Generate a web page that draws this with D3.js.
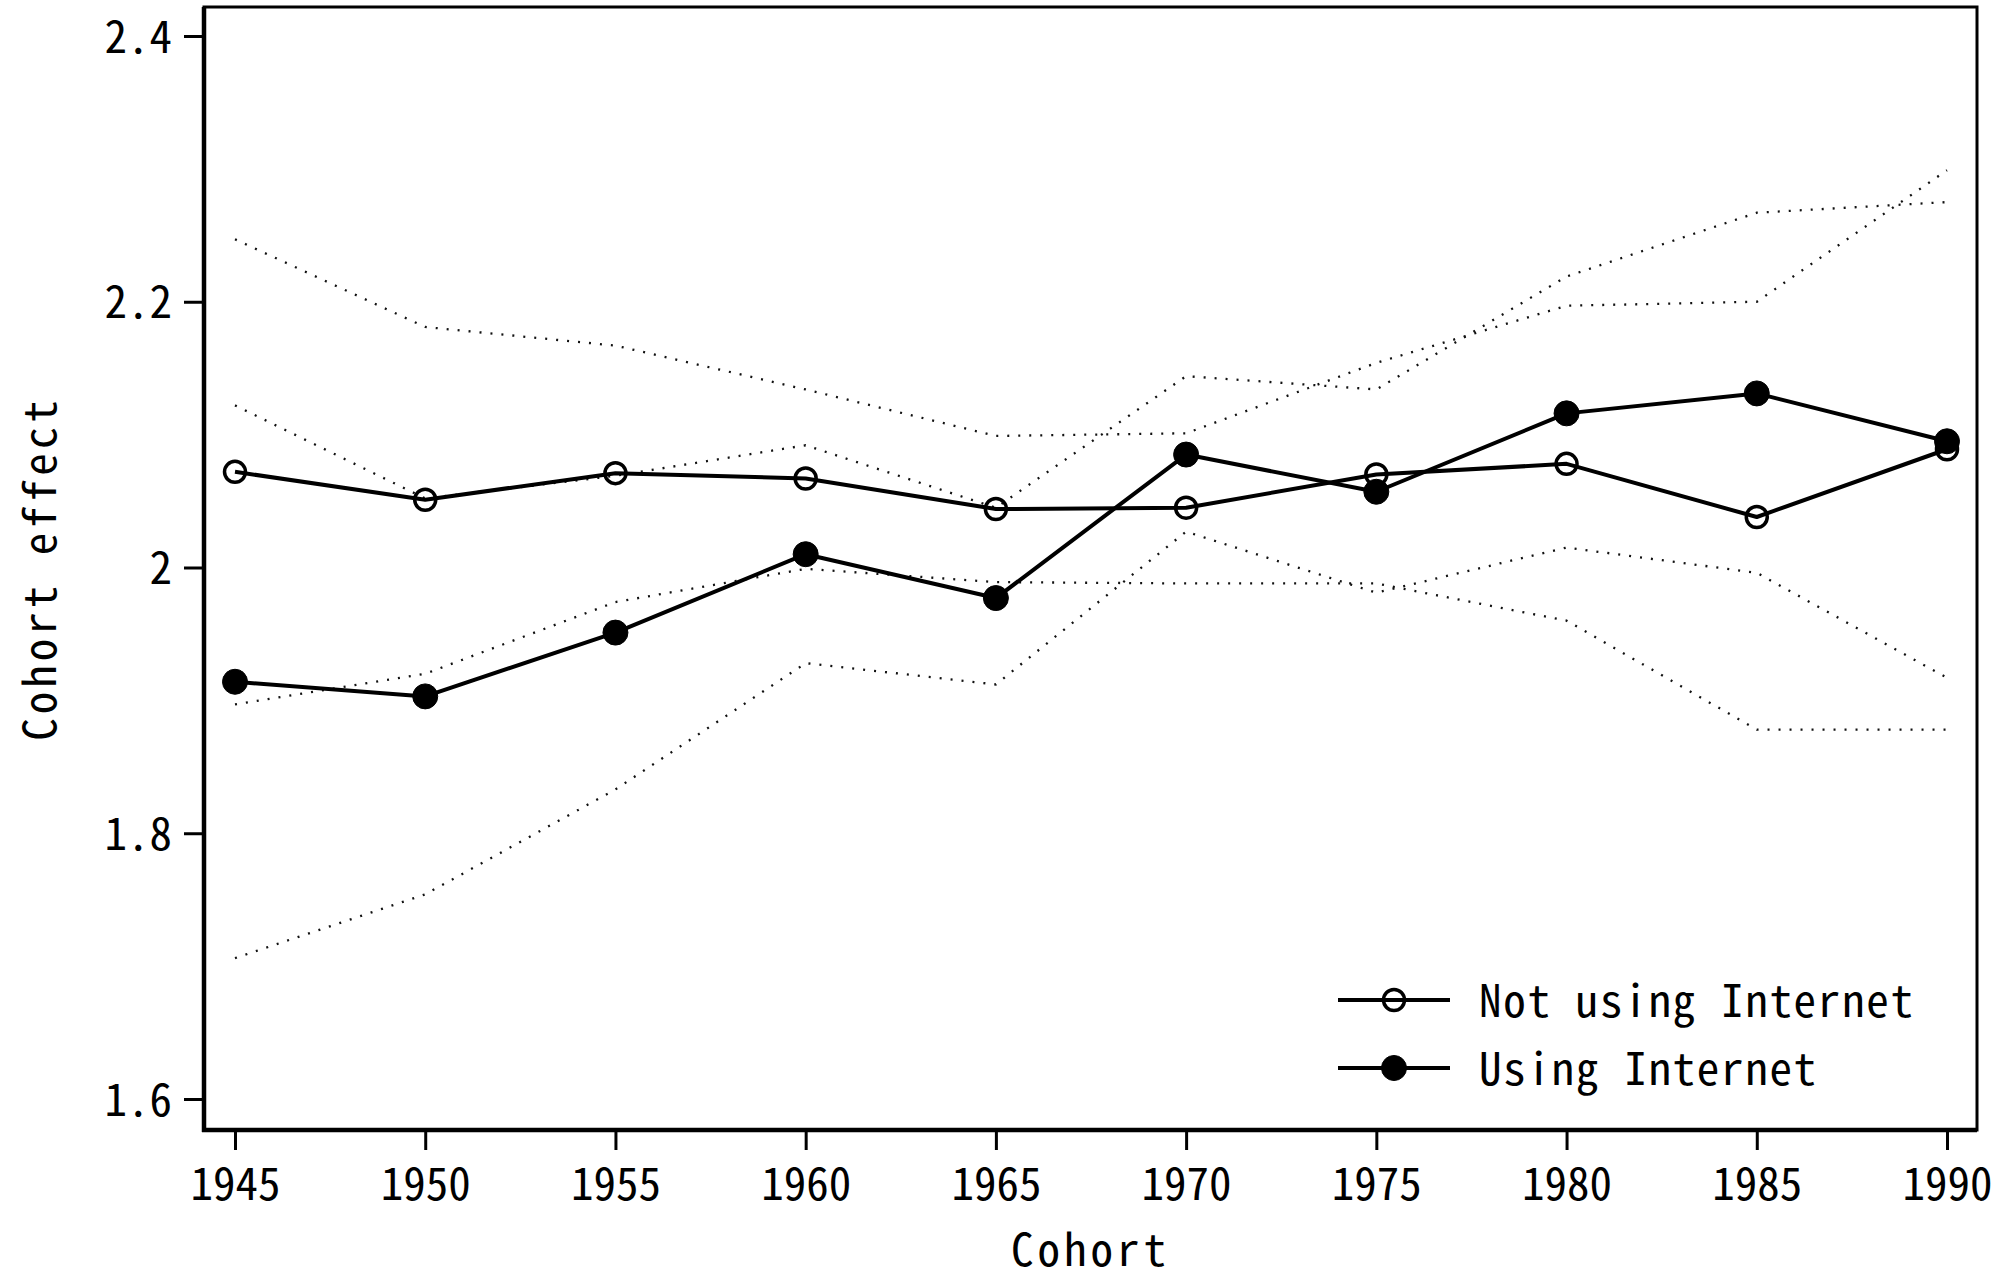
<!DOCTYPE html>
<html>
<head>
<meta charset="utf-8">
<script src="https://cdn.jsdelivr.net/npm/d3@7"></script>
<style>
  html, body { margin: 0; padding: 0; background: #fff; }
  svg text { font-family: "Noto Sans Mono CJK SC", "Noto Sans CJK SC", "DejaVu Sans Mono", monospace; fill: #000; }
</style>
</head>
<body>
<svg id="chart" width="2000" height="1280"></svg>
<script>
// ---- data ----
const cohorts = [1945, 1950, 1955, 1960, 1965, 1970, 1975, 1980, 1985, 1990];
const notUsing      = [2.072, 2.051, 2.071, 2.067, 2.044, 2.045, 2.070, 2.078, 2.038, 2.089];
const notUsingUpper = [2.247, 2.181, 2.167, 2.134, 2.099, 2.101, 2.154, 2.197, 2.200, 2.299];
const notUsingLower = [1.897, 1.920, 1.974, 1.999, 1.989, 1.988, 1.988, 1.960, 1.878, 1.878];
const usingNet      = [1.914, 1.903, 1.951, 2.010, 1.977, 2.085, 2.057, 2.116, 2.131, 2.095];
const usingUpper    = [2.122, 2.052, 2.069, 2.092, 2.045, 2.144, 2.134, 2.219, 2.267, 2.275];
const usingLower    = [1.706, 1.754, 1.833, 1.928, 1.912, 2.027, 1.981, 2.015, 1.996, 1.917];
const yTicks = [1.6, 1.8, 2.0, 2.2, 2.4];
const yTickLabels = ["1.6", "1.8", "2", "2.2", "2.4"];
const legendLabels = ["Not using Internet", "Using Internet"];
const xTitle = "Cohort";
const yTitle = "Cohort effect";

// ---- layout ----
const frame = { left: 204, right: 1977, top: 7, bottom: 1130 };
const svg = d3.select("#chart");

const x = d3.scaleLinear().domain([1945, 1990]).range([235, 1947]);
const y = d3.scaleLinear().domain([1.6, 2.4]).range([1099, 36]);

// ---- confidence bands (dotted) ----
const line = d3.line().x(d => x(d[0])).y(d => y(d[1]));
[notUsingUpper, notUsingLower, usingUpper, usingLower].forEach(arr => {
  svg.append("path")
    .datum(cohorts.map((c, i) => [c, arr[i]]))
    .attr("d", line)
    .attr("fill", "none")
    .attr("stroke", "#111")
    .attr("stroke-width", 2.3)
    .attr("stroke-dasharray", "2 9");
});

// ---- main series ----
const series = [
  { values: notUsing, filled: false },
  { values: usingNet, filled: true }
];
series.forEach(s => {
  const pts = cohorts.map((c, i) => [c, s.values[i]]);
  svg.append("path")
    .datum(pts)
    .attr("d", line)
    .attr("fill", "none")
    .attr("stroke", "#000")
    .attr("stroke-width", 4)
    .attr("stroke-linejoin", "round");
  svg.selectAll(null).data(pts).enter().append("circle")
    .attr("cx", d => x(d[0]))
    .attr("cy", d => y(d[1]))
    .attr("r", s.filled ? 12.5 : 10.5)
    .attr("fill", s.filled ? "#000" : "none")
    .attr("stroke", "#000")
    .attr("stroke-width", s.filled ? 1 : 3.5);
});

// ---- frame ----
svg.append("rect")
  .attr("x", frame.left).attr("y", frame.top)
  .attr("width", frame.right - frame.left)
  .attr("height", frame.bottom - frame.top)
  .attr("fill", "none").attr("stroke", "#000").attr("stroke-width", 3);
svg.append("line")
  .attr("x1", frame.left).attr("x2", frame.left)
  .attr("y1", frame.top).attr("y2", frame.bottom + 2)
  .attr("stroke", "#000").attr("stroke-width", 4.5);
svg.append("line")
  .attr("x1", frame.left - 2).attr("x2", frame.right)
  .attr("y1", frame.bottom).attr("y2", frame.bottom)
  .attr("stroke", "#000").attr("stroke-width", 4.5);

// ---- axes ----
const xAxis = d3.axisBottom(x).tickValues(cohorts).tickFormat(d3.format("d"))
  .tickSize(20).tickSizeOuter(0);
const gx = svg.append("g").attr("transform", `translate(0,${frame.bottom})`).call(xAxis);
gx.select(".domain").remove();
gx.selectAll(".tick line").attr("stroke", "#000").attr("stroke-width", 3);
gx.selectAll(".tick text")
  .attr("y", 70).attr("dy", 0)
  .style("font-size", "45px");

const yAxis = d3.axisLeft(y).tickValues(yTicks)
  .tickFormat((d, i) => yTickLabels[i]).tickSize(20).tickPadding(12).tickSizeOuter(0);
const gy = svg.append("g").attr("transform", `translate(${frame.left},0)`).call(yAxis);
gy.select(".domain").remove();
gy.selectAll(".tick line").attr("stroke", "#000").attr("stroke-width", 3);
gy.selectAll(".tick text")
  .attr("dy", "0.36em")
  .style("font-size", "45px");

// ---- axis titles ----
svg.append("text")
  .attr("x", (frame.left + frame.right) / 2)
  .attr("y", 1266)
  .attr("text-anchor", "middle")
  .style("font-size", "45px")
  .style("letter-spacing", "4px")
  .text(xTitle);
svg.append("text")
  .attr("transform", `translate(56,${(frame.top + frame.bottom) / 2}) rotate(-90)`)
  .attr("text-anchor", "middle")
  .style("font-size", "45px")
  .style("letter-spacing", "4px")
  .text(yTitle);

// ---- legend ----
const legendY = [1000, 1068];
legendLabels.forEach((lab, i) => {
  const g = svg.append("g");
  g.append("line")
    .attr("x1", 1338).attr("x2", 1450)
    .attr("y1", legendY[i]).attr("y2", legendY[i])
    .attr("stroke", "#000").attr("stroke-width", 4);
  g.append("circle")
    .attr("cx", 1394).attr("cy", legendY[i])
    .attr("r", i === 0 ? 10.5 : 12.5)
    .attr("fill", i === 0 ? "none" : "#000")
    .attr("stroke", "#000").attr("stroke-width", i === 0 ? 3.5 : 1);
  g.append("text")
    .attr("x", 1479).attr("y", legendY[i] + 17)
    .style("font-size", "45px")
    .style("letter-spacing", "1.7px")
    .text(lab);
});
</script>
</body>
</html>
